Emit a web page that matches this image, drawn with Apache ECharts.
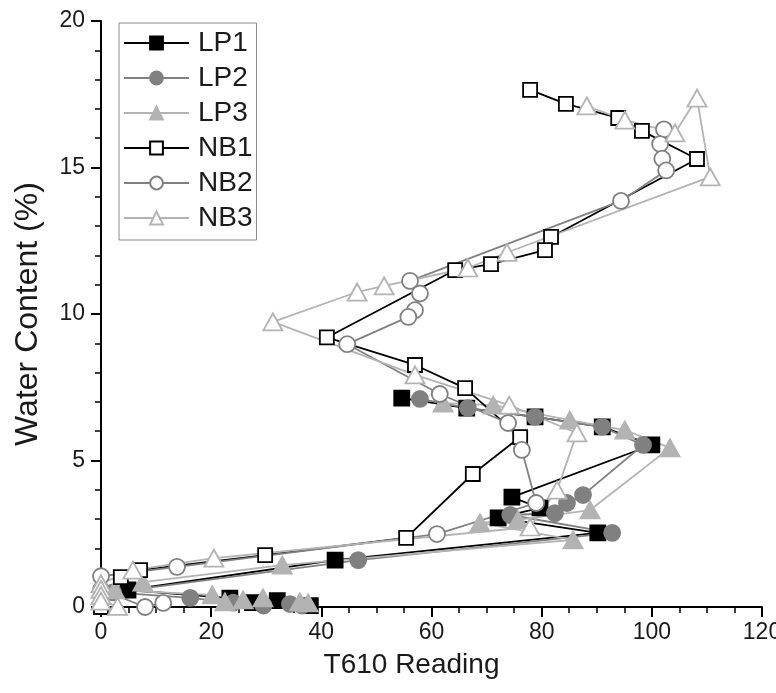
<!DOCTYPE html>
<html>
<head>
<meta charset="utf-8">
<script src="https://cdn.jsdelivr.net/npm/echarts@6/dist/echarts.min.js"></script>
<style>html,body{margin:0;padding:0;background:#fff;}#c{width:776px;height:693px;}</style>
</head>
<body>
<div id="c"></div>
<script>
const seriesNames = ['LP1','LP2','LP3','NB1','NB2','NB3'];

const lp1X = [54.6, 66.4, 78.8, 91.0, 100.0, 74.6, 79.7, 72.1, 90.2, 42.5, 4.9, 23.4, 27.5, 32.0, 38.0];
const lp1Y = [7.13, 6.79, 6.49, 6.15, 5.53, 3.75, 3.38, 3.04, 2.53, 1.60, 0.58, 0.30, 0.15, 0.22, 0.05];

const lp2X = [57.9, 66.6, 78.8, 91.0, 98.4, 87.5, 84.6, 82.4, 74.3, 92.8, 46.7, 2.2, 16.2, 24.0, 29.5, 34.3, 36.5];
const lp2Y = [7.10, 6.79, 6.49, 6.15, 5.53, 3.82, 3.55, 3.20, 3.14, 2.53, 1.60, 0.50, 0.31, 0.15, 0.05, 0.10, 0.05];

const lp3X = [62.1, 71.2, 85.1, 95.1, 103.3, 88.8, 75.7, 68.8, 85.7, 32.9, 7.6, 2.5, 20.2, 22.5, 25.8, 29.4, 36.1, 37.6];
const lp3Y = [6.96, 6.89, 6.38, 6.04, 5.43, 3.31, 2.97, 2.87, 2.29, 1.43, 0.85, 0.58, 0.41, 0.17, 0.24, 0.31, 0.17, 0.14];

const nb1X = [77.9, 84.4, 93.9, 98.2, 108.2, 81.7, 80.6, 70.8, 64.3, 41.0, 57.0, 66.1, 76.1, 67.5, 55.4, 29.8, 7.1, 3.6, 0.0];
const nb1Y = [17.65, 17.17, 16.69, 16.25, 15.29, 12.63, 12.18, 11.70, 11.50, 9.20, 8.26, 7.47, 5.80, 4.54, 2.36, 1.77, 1.26, 1.02, 0.0];

const nb2X = [102.2, 101.5, 101.9, 102.6, 94.4, 56.1, 57.9, 57.0, 55.8, 44.7, 61.5, 73.9, 76.4, 79.0, 61.0, 13.8, 0.0, 0.0, 8.0, 11.3];
const nb2Y = [16.30, 15.80, 15.30, 14.90, 13.86, 11.13, 10.70, 10.13, 9.90, 8.97, 7.27, 6.28, 5.36, 3.55, 2.49, 1.37, 1.05, 0.60, 0.0, 0.14];

const nb3X = [88.2, 95.1, 104.2, 108.2, 110.6, 73.7, 66.6, 51.4, 46.5, 31.2, 57.0, 74.1, 86.4, 82.8, 77.9, 20.5, 5.8, 0.0, 0.0, 0.0, 0.0, 3.0];
const nb3Y = [17.10, 16.62, 16.18, 17.37, 14.68, 12.10, 11.57, 10.96, 10.75, 9.73, 7.92, 6.89, 5.94, 3.99, 2.73, 1.67, 1.26, 0.80, 0.60, 0.40, 0.20, 0.02];

const xTicks = [0, 20, 40, 60, 80, 100, 120];
const yTicks = [0, 5, 10, 15, 20];

function pairs(xs, ys) { return xs.map((x, i) => [x, ys[i]]); }

const BLACK = '#000000', GRAY = '#808080', LIGHT = '#b3b3b3';

const styles = {
  LP1: {symbol: 'rect', size: [15, 15], fill: BLACK, border: BLACK, line: BLACK},
  LP2: {symbol: 'circle', size: 16, fill: GRAY, border: GRAY, line: GRAY},
  LP3: {symbol: 'triangle', size: [19, 17], fill: LIGHT, border: LIGHT, line: LIGHT},
  NB1: {symbol: 'rect', size: [14, 14], fill: '#ffffff', border: BLACK, line: BLACK},
  NB2: {symbol: 'circle', size: 16, fill: '#ffffff', border: GRAY, line: GRAY},
  NB3: {symbol: 'triangle', size: [19, 17], fill: '#ffffff', border: LIGHT, line: LIGHT}
};

const dataSets = {
  LP1: pairs(lp1X, lp1Y), LP2: pairs(lp2X, lp2Y), LP3: pairs(lp3X, lp3Y),
  NB1: pairs(nb1X, nb1Y), NB2: pairs(nb2X, nb2Y), NB3: pairs(nb3X, nb3Y)
};

const series = seriesNames.map(n => {
  const s = styles[n];
  return {
    name: n, type: 'line', data: dataSets[n],
    symbol: s.symbol, symbolSize: s.size, showAllSymbol: true, clip: false,
    lineStyle: {color: s.line, width: 1.8},
    itemStyle: {color: s.fill, borderColor: s.border, borderWidth: 1.8},
    emphasis: {disabled: true},
    animation: false
  };
});

const FONT = 'Liberation Sans, Arial, sans-serif';

const chart = echarts.init(document.getElementById('c'), null, {renderer: 'canvas'});
chart.setOption({
  backgroundColor: '#ffffff',
  animation: false,
  grid: {left: 101, right: 14, top: 21, bottom: 86, containLabel: false, outerBoundsMode: 'none'},
  legend: {
    orient: 'vertical', left: 119, top: 23,
    data: seriesNames,
    itemWidth: 65, itemHeight: 16, itemGap: 7,
    padding: [6, 4, 8, 4],
    borderColor: '#8a8a8a', borderWidth: 1,
    textStyle: {fontFamily: FONT, fontSize: 28, lineHeight: 26, color: '#1a1a1a', padding: [0, 0, 0, 4]}
  },
  xAxis: {
    type: 'value', min: 0, max: 120, interval: 20,
    name: 'T610 Reading', nameLocation: 'middle', nameGap: 44,
    nameTextStyle: {fontFamily: FONT, fontSize: 28, color: '#1a1a1a', padding: [0, 40, 0, 0]},
    axisLine: {show: true, onZero: false, lineStyle: {color: '#000', width: 2}},
    axisTick: {show: true, inside: false, length: 10, lineStyle: {color: '#000', width: 2}},
    minorTick: {show: true, splitNumber: 4, length: 6, lineStyle: {color: '#000', width: 1.5}},
    splitLine: {show: false},
    axisLabel: {fontFamily: FONT, fontSize: 23, color: '#1a1a1a', margin: 14,
      formatter: v => xTicks.includes(v) ? String(v) : ''}
  },
  yAxis: {
    type: 'value', min: 0, max: 20, interval: 5,
    name: 'Water Content (%)', nameLocation: 'middle', nameGap: 57,
    nameTextStyle: {fontFamily: FONT, fontSize: 32, color: '#1a1a1a'},
    axisLine: {show: true, onZero: false, lineStyle: {color: '#000', width: 2}},
    axisTick: {show: true, inside: false, length: 10, lineStyle: {color: '#000', width: 2}},
    minorTick: {show: true, splitNumber: 5, length: 6, lineStyle: {color: '#000', width: 1.5}},
    splitLine: {show: false},
    axisLabel: {fontFamily: FONT, fontSize: 23, color: '#1a1a1a', margin: 16,
      formatter: v => yTicks.includes(v) ? String(v) : ''}
  },
  series: series
});
</script>
</body>
</html>
